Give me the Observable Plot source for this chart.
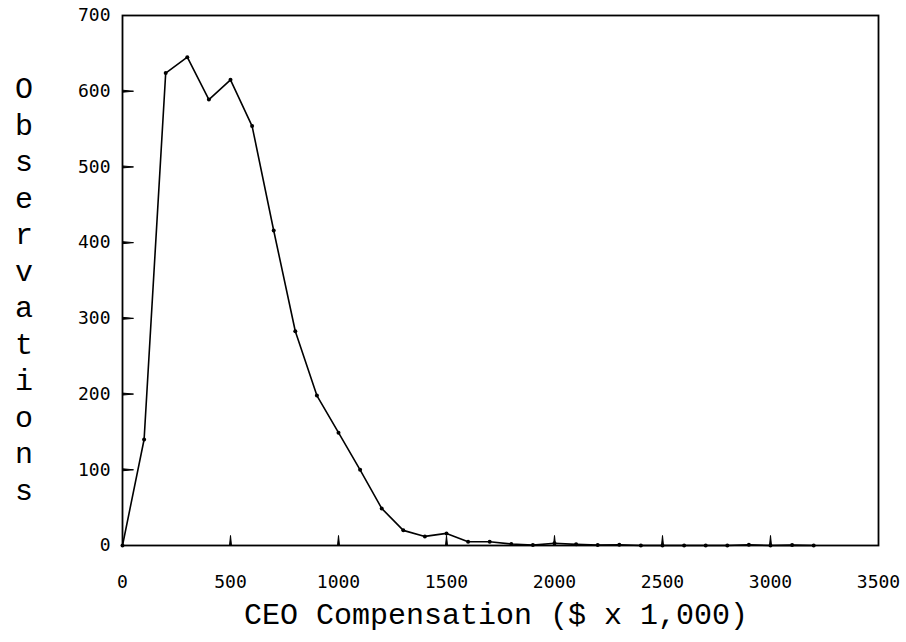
<!DOCTYPE html>
<html><head><meta charset="utf-8">
<script src="https://cdn.jsdelivr.net/npm/d3@7"></script>
<script src="https://cdn.jsdelivr.net/npm/@observablehq/plot@0.6"></script>
<style>body{margin:0;background:#fff}</style>
</head><body><div id="chart"></div>
<script>
const compensation = [0,100,200,300,400,500,600,700,800,900,1000,1100,1200,1300,1400,1500,1600,1700,1800,1900,2000,2100,2200,2300,2400,2500,2600,2700,2800,2900,3000,3100,3200];
const observations = [0,140,624,645,589,615,554,416,283,198,149,100,49,20,12,16,5,5,2,0.5,3,1.5,0.5,1,0,0,0,0,0,1,0,0.5,0];
const xTicks = [0,500,1000,1500,2000,2500,3000,3500];
const yTicks = [0,100,200,300,400,500,600,700];
const xTitle = "CEO Compensation ($ x 1,000)";
const yTitle = "Observations";

const data = compensation.map((c, i) => ({c, n: observations[i]}));
const W = 906, H = 642, ML = 122, MR = 28, MT = 15, MB = 97;
const PW = W - ML - MR, PH = H - MT - MB;

const chart = Plot.plot({
  width: W, height: H,
  marginLeft: ML, marginRight: MR, marginTop: MT, marginBottom: MB,
  style: {background: "#fff", color: "#000", overflow: "visible"},
  x: {domain: [0, 3500], label: null},
  y: {domain: [0, 700], label: null},
  marks: [
    Plot.axisX(xTicks, {tickSize: 0, tickPadding: 29.5, fontSize: 18, fontFamily: "DejaVu Sans Mono", tickFormat: d => String(d), label: null}),
    Plot.axisY(yTicks, {tickSize: 0, tickPadding: 12, fontSize: 18, fontFamily: "DejaVu Sans Mono", tickFormat: d => String(d), label: null}),
    Plot.vector(xTicks.slice(1, -1), {x: d => d, y: yTicks[0], length: 10, rotate: 0, anchor: "start", shape: "spike", r: 1, fill: "#000", stroke: "#000", strokeWidth: 1}),
    Plot.vector(yTicks.slice(1, -1), {x: xTicks[0], y: d => d, length: 11, rotate: 90, anchor: "start", shape: "spike", r: 1, fill: "#000", stroke: "#000", strokeWidth: 1}),
    Plot.frame({stroke: "#000", strokeWidth: 1.8}),
    Plot.line(data, {x: "c", y: "n", stroke: "#000", strokeWidth: 1.6}),
    Plot.dot(data, {x: "c", y: "n", r: 2, fill: "#000"})
  ]
});
document.getElementById("chart").append(chart);

const svg = d3.select(chart);
const plotCx = ML + PW / 2;
svg.append("text")
  .attr("x", plotCx - 4).attr("y", 624)
  .attr("text-anchor", "middle")
  .attr("font-family", "Liberation Mono")
  .attr("font-size", 30)
  .attr("fill", "#000")
  .text(xTitle);

const yt = svg.append("text")
  .attr("font-family", "Liberation Mono")
  .attr("font-size", 30)
  .attr("fill", "#000")
  .attr("text-anchor", "middle");
yt.selectAll("tspan").data(Array.from(yTitle)).join("tspan")
  .attr("x", 24)
  .attr("y", (d, i) => 98 + i * 36.5)
  .text(d => d);
</script></body></html>
